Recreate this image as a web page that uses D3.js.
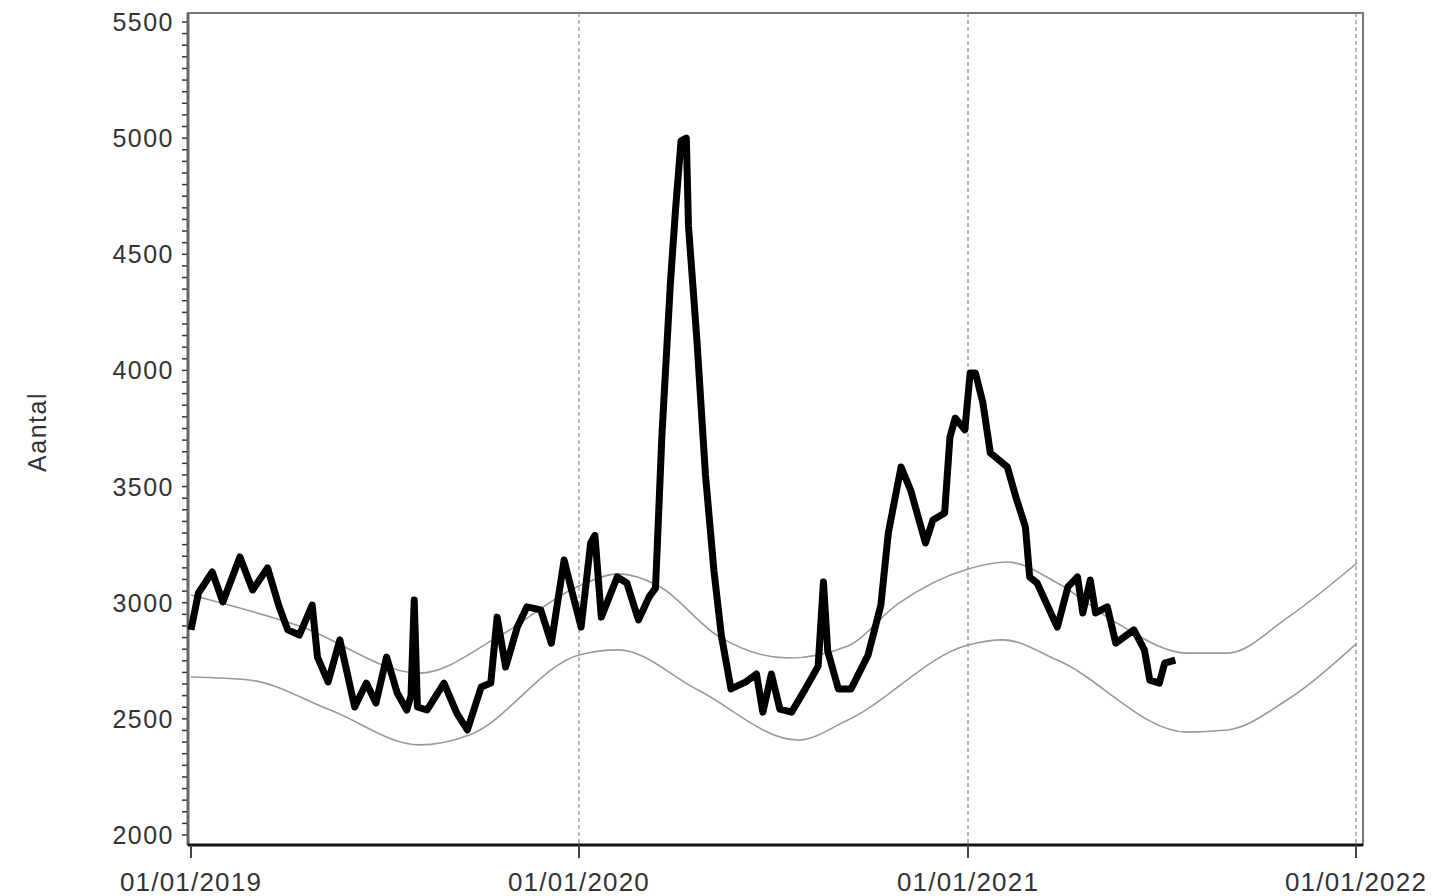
<!DOCTYPE html>
<html>
<head>
<meta charset="utf-8">
<script src="https://cdn.jsdelivr.net/npm/d3@7"></script>
<style>
body { margin: 0; background: #fff; }
svg text { font-family: "Liberation Sans", Arial, sans-serif; fill: #333; }
</style>
</head>
<body>
<svg id="chart" width="1437" height="896"></svg>
<script>
// days since 01/01/2019 and counts
var obsDays = [0,7,20,30,46,58,72,83,91,102,114,119,129,140,154,165,174,184,194,203,207,210,213,222,238,250,260,273,282,288,296,307,316,329,339,351,358,367,376,380,386,401,410,421,431,437,443,451,456,461,466,468,476,484,492,499,508,522,532,538,546,554,565,578,590,595,599,609,621,637,649,656,668,677,691,698,709,714,719,728,733,738,745,752,768,776,785,789,796,815,825,834,839,846,851,862,870,887,897,902,911,916,926];
var obsVals = [2883,3042,3132,3003,3197,3055,3150,2982,2883,2861,2990,2766,2659,2840,2551,2654,2568,2766,2611,2538,2600,3012,2551,2538,2654,2525,2452,2637,2654,2938,2723,2895,2982,2969,2826,3184,3055,2895,3257,3290,2938,3111,3085,2926,3025,3063,3718,4376,4703,4988,5000,4622,4127,3550,3136,2857,2629,2659,2693,2529,2693,2542,2529,2629,2727,3089,2792,2629,2629,2775,2990,3300,3584,3485,3257,3356,3386,3713,3795,3744,3989,3989,3860,3645,3584,3455,3326,3111,3085,2895,3068,3111,2956,3098,2956,2982,2826,2883,2796,2667,2654,2740,2753];

var upperDays = [0,102,215,290,365,402,440,496,562,618,665,731,768,815,871,937,975,1031,1097];
var upperVals = [3033,2900,2697,2856,3072,3124,3072,2856,2762,2814,2995,3145,3175,3085,2912,2783,2783,2934,3171];

var lowerDays = [0,55,131,215,262,365,402,477,571,618,731,764,815,937,975,1031,1097];
var lowerVals = [2680,2667,2538,2388,2431,2775,2797,2624,2409,2495,2818,2840,2753,2443,2452,2581,2826];

var yTicks = [2000,2500,3000,3500,4000,4500,5000,5500];
var xTicks = ["2019-01-01","2020-01-01","2021-01-01","2022-01-01"];

var svg = d3.select("#chart");
var start = new Date(2019, 0, 1);
function toDate(d){ return d3.timeDay.offset(start, d); }

var x = d3.scaleTime().domain([start, new Date(2022, 0, 1)]).range([191, 1356]);
var y = d3.scaleLinear().domain([2000, 5500]).range([835, 22]);
var fmt = d3.timeFormat("%d/%m/%Y");
var parse = d3.timeParse("%Y-%m-%d");

// frame
svg.append("rect").attr("x", 188).attr("y", 13).attr("width", 1175).attr("height", 832)
   .attr("fill", "none").attr("stroke", "#777").attr("stroke-width", 2);

// dashed year lines
svg.selectAll(".vline").data(xTicks.slice(1)).enter().append("line")
   .attr("x1", function(d){ return x(parse(d)); }).attr("x2", function(d){ return x(parse(d)); })
   .attr("y1", 13).attr("y2", 845)
   .attr("stroke", "#888").attr("stroke-width", 1.2).attr("stroke-dasharray", "4,3");

// y axis with minor ticks
var minor = d3.range(2000, 5501, 50);
svg.selectAll(".ymin").data(minor).enter().append("line")
   .attr("x1", 182).attr("x2", 188)
   .attr("y1", function(d){ return y(d); }).attr("y2", function(d){ return y(d); })
   .attr("stroke", "#333").attr("stroke-width", 1.5);
svg.append("line").attr("x1", 188).attr("x2", 188).attr("y1", 13).attr("y2", 845)
   .attr("stroke", "#666").attr("stroke-width", 3);
svg.selectAll(".ylab").data(yTicks).enter().append("text")
   .attr("x", 174).attr("y", function(d){ return y(d); }).attr("dy", "0.36em")
   .attr("text-anchor", "end").attr("font-size", 25).attr("letter-spacing", 1.5)
   .text(function(d){ return d; });

// bottom axis
svg.append("line").attr("x1", 188).attr("x2", 1363).attr("y1", 845).attr("y2", 845)
   .attr("stroke", "#111").attr("stroke-width", 3);
svg.selectAll(".xt").data(xTicks).enter().append("line")
   .attr("x1", function(d){ return x(parse(d)); }).attr("x2", function(d){ return x(parse(d)); })
   .attr("y1", 845).attr("y2", 858).attr("stroke", "#444").attr("stroke-width", 2);
svg.selectAll(".xlab").data(xTicks).enter().append("text")
   .attr("x", function(d){ return x(parse(d)); }).attr("y", 891)
   .attr("text-anchor", "middle").attr("font-size", 26).attr("letter-spacing", 1.2)
   .text(function(d){ return fmt(parse(d)); });

svg.append("text").attr("transform", "translate(46,432) rotate(-90)")
   .attr("text-anchor", "middle").attr("font-size", 25).attr("letter-spacing", 1.5)
   .attr("fill", "#555").text("Aantal");

// bands
function band(days, vals){
  return d3.line().curve(d3.curveMonotoneX)
    .x(function(d, i){ return x(toDate(days[i])); })
    .y(function(d, i){ return y(vals[i]); })(vals);
}
svg.append("path").attr("d", band(upperDays, upperVals)).attr("fill", "none").attr("stroke", "#999").attr("stroke-width", 1.6);
svg.append("path").attr("d", band(lowerDays, lowerVals)).attr("fill", "none").attr("stroke", "#999").attr("stroke-width", 1.6);

// observed
var obsLine = d3.line()
  .x(function(d, i){ return x(toDate(obsDays[i])); })
  .y(function(d){ return y(d); });
svg.append("path").attr("d", obsLine(obsVals)).attr("fill", "none")
   .attr("stroke", "#000").attr("stroke-width", 7).attr("stroke-linejoin", "round");
</script>
</body>
</html>
